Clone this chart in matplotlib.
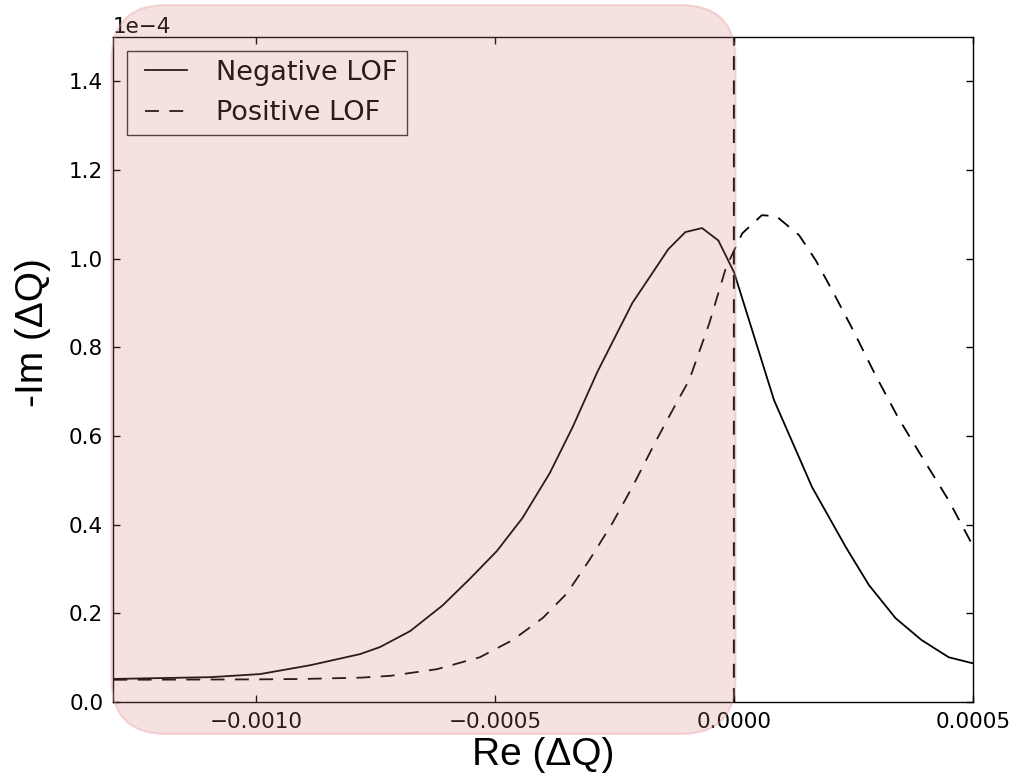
import numpy as np
import matplotlib
matplotlib.use("Agg")
import matplotlib.pyplot as plt
from matplotlib.lines import Line2D
from matplotlib.legend_handler import HandlerLine2D
from matplotlib.patches import FancyBboxPatch
from matplotlib.ticker import MultipleLocator, ScalarFormatter

# Re and -Im of the tune shift, both in units of 1e-4
re_neg = [-13.5, -13.0, -10.96, -9.92, -8.87, -7.83, -7.41, -6.78, -6.10, -5.53,
          -4.97, -4.43, -3.86, -3.38, -2.86, -2.13, -1.77, -1.38, -1.02, -0.67,
          -0.33, 0.0, 0.835, 1.63, 2.34, 2.82, 3.38, 3.92, 4.49, 4.97, 5.3]
im_neg = [0.051, 0.052, 0.056, 0.063, 0.083, 0.108, 0.124, 0.160, 0.218, 0.278,
          0.340, 0.415, 0.516, 0.62, 0.745, 0.90, 0.958, 1.021, 1.06, 1.069,
          1.041, 0.969, 0.681, 0.485, 0.349, 0.264, 0.189, 0.140, 0.101, 0.088, 0.082]

re_pos = [-13.5, -10.0, -9.0, -7.8, -7.2, -6.22, -5.32, -4.63, -4.0, -3.5,
          -3.03, -2.55, -2.13, -1.63, -1.21, -0.94, -0.52, -0.17, 0.17, 0.58,
          0.88, 1.36, 1.71, 2.05, 2.46, 2.96, 3.44, 3.97, 4.49, 4.97, 5.3]
im_pos = [0.050, 0.051, 0.052, 0.055, 0.059, 0.074, 0.101, 0.14, 0.19, 0.245,
          0.32, 0.403, 0.485, 0.59, 0.674, 0.726, 0.854, 0.98, 1.057, 1.098,
          1.096, 1.053, 0.996, 0.929, 0.845, 0.737, 0.64, 0.546, 0.455, 0.358, 0.30]

labels = ["Negative LOF", "Positive LOF"]
scale = 1e-4

plt.rcParams["font.family"] = "DejaVu Sans"
plt.rcParams["lines.scale_dashes"] = False
plt.rcParams["axes.unicode_minus"] = True

W, H = 1014, 778
fig = plt.figure(figsize=(W / 100, H / 100), dpi=100)
ax = fig.add_axes([113 / W, 1 - 702 / H, 860 / W, 665 / H])

dash = (10, 7.5)
ax.plot(np.array(re_neg) * scale, np.array(im_neg) * scale, color="k", lw=1.3,
        label=labels[0])
ax.plot(np.array(re_pos) * scale, np.array(im_pos) * scale, color="k", lw=1.3,
        ls="--", dashes=dash, label=labels[1])
ax.axvline(0, color="k", lw=1.6, ls="--", dashes=dash)

ax.set_xlim(-0.0013, 0.0005)
ax.set_ylim(0, 1.5e-4)
ax.xaxis.set_major_locator(MultipleLocator(0.0005))
ax.yaxis.set_major_locator(MultipleLocator(0.2e-4))

xfmt = ScalarFormatter()
xfmt.set_useOffset(False)
xfmt.set_powerlimits((-6, 6))
ax.xaxis.set_major_formatter(xfmt)
yfmt = ScalarFormatter()
yfmt.set_powerlimits((-3, 3))
ax.yaxis.set_major_formatter(yfmt)
ax.yaxis.get_offset_text().set_fontsize(15.5)

ax.tick_params(direction="in", length=5, width=1, top=True, right=True,
               labelsize=15.5, pad=7, colors="k")
for s in ax.spines.values():
    s.set_linewidth(1.0)

leg = ax.legend(loc="upper left", fontsize=19.5, frameon=True, fancybox=False,
                handlelength=1.88, handletextpad=1.1, borderaxespad=0.5,
                labelspacing=0.53, borderpad=0.34,
                handler_map={Line2D: HandlerLine2D(xpad=0.33)})
leg.get_frame().set_edgecolor("k")
leg.get_frame().set_linewidth(1.0)

fig.text(543 / W, 1 - 755 / H, "Re (ΔQ)", ha="center", va="center",
         fontsize=28, family="Liberation Sans")
fig.text(33 / W, 1 - 333 / H, "-Im (ΔQ)", ha="center", va="center",
         rotation=90, fontsize=28, family="Liberation Sans")

# translucent highlight over the Re < 0 half
box = FancyBboxPatch((1.115, (H - 734) / 100), 6.24, 7.29,
                     boxstyle="round,pad=0,rounding_size=0.55",
                     transform=fig.dpi_scale_trans,
                     facecolor=(0.84, 0.47, 0.47, 0.22),
                     edgecolor=(0.9, 0.6, 0.6, 0.35), lw=1.5, zorder=5)
fig.add_artist(box)

fig.savefig("out.png", dpi=100, facecolor="white")
